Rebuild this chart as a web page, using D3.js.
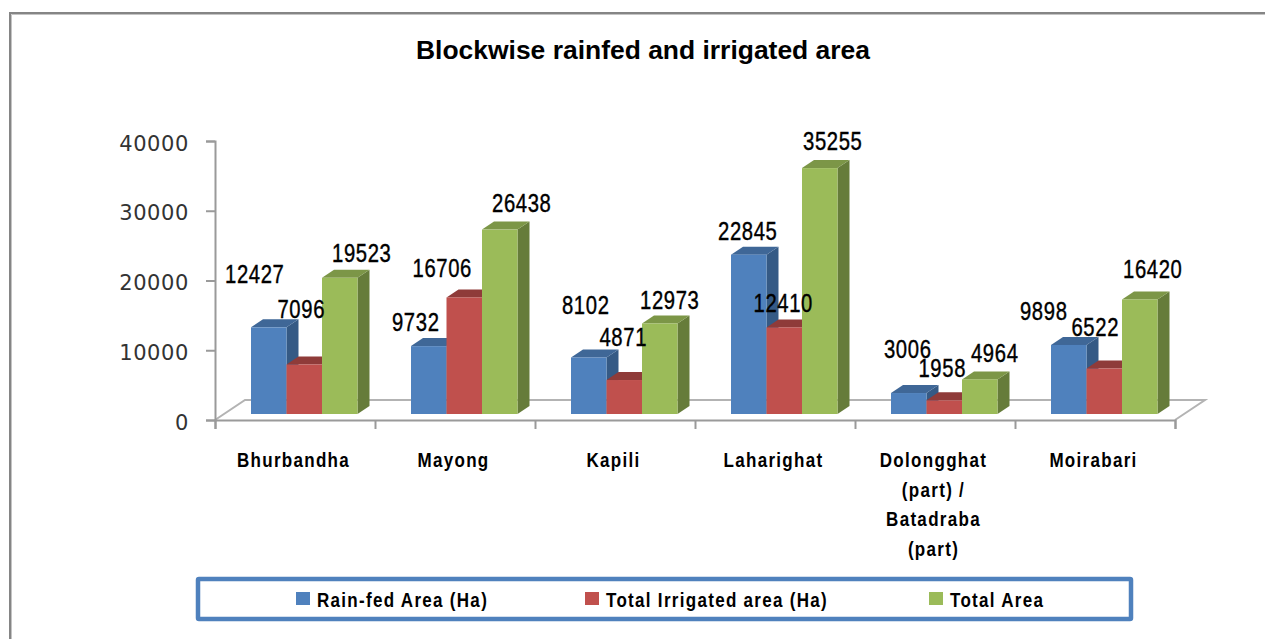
<!DOCTYPE html>
<html>
<head>
<meta charset="utf-8">
<script src="https://cdnjs.cloudflare.com/ajax/libs/d3/7.8.5/d3.min.js"></script>
<style>
  html, body { margin: 0; padding: 0; background: #fff; }
  svg { display: block; }
  .narrow { font-family: "Liberation Sans", sans-serif; fill: #000; }
</style>
</head>
<body>
<div id="chart"></div>
<script>
const blocks = [
  ["Bhurbandha"],
  ["Mayong"],
  ["Kapili"],
  ["Laharighat"],
  ["Dolongghat", "(part) /", "Batadraba", "(part)"],
  ["Moirabari"]
];
const seriesNames = ["Rain-fed Area (Ha)", "Total Irrigated area (Ha)", "Total Area"];
const rainfed = [12427, 9732, 8102, 22845, 3006, 9898];
const irrigated = [7096, 16706, 4871, 12410, 1958, 6522];
const totalArea = [19523, 26438, 12973, 35255, 4964, 16420];
const yTicks = [0, 10000, 20000, 30000, 40000];

// colours: front, top, side
const palette = [
  ["#4f81bd", "#3f6797", "#355a85"],
  ["#c0504d", "#8f3b39", "#8f3b39"],
  ["#9bbb59", "#7c9647", "#667c3a"]
];

// the labels sit by hand in the original, these are nudges from the bar top
const labelNudgeX = [
  [-14, -13, -3, -1, -1, -25],
  [-3, -22, -1, -1, -2, -9],
  [22, 22, 10, 13, 15, 13]
];
const labelNudgeY = [
  [-44, -15, -43, -15, -35, -25],
  [-47, -20, -34, -15, -23, -33],
  [-16, -18, -15, -18, -17, -21]
];

const width = 1265, height = 639;
const plotLeft = 215, plotRight = 1175, plotTop = 141, plotBottom = 420;
const depthX = 12, depthY = 8;      // bar depth
const floorX = 29, floorY = 20;     // floor depth
const floorLift = 6;                // bars stand a bit behind the front edge
const squeeze = 0.81;               // no condensed font here, so narrow the text

// squeeze the text to a share of its natural width
function narrow(sel) {
  sel.each(function () {
    const len = this.getComputedTextLength();
    d3.select(this)
      .attr("textLength", len * squeeze)
      .attr("lengthAdjust", "spacingAndGlyphs");
  });
}

const svg = d3.select("#chart").append("svg")
  .attr("width", width)
  .attr("height", height);

// outer frame, light edge under the dark one
svg.append("path")
  .attr("d", "M11.5,639 V14.5 H1265")
  .attr("fill", "none")
  .attr("stroke", "#c4c4c4")
  .attr("stroke-width", 1);
svg.append("path")
  .attr("d", "M10,639 V13 H1265")
  .attr("fill", "none")
  .attr("stroke", "#858585")
  .attr("stroke-width", 2);

svg.append("text")
  .attr("x", 643)
  .attr("y", 59)
  .attr("text-anchor", "middle")
  .attr("font-family", "Liberation Sans")
  .attr("font-weight", "bold")
  .attr("font-size", 26)
  .attr("textLength", 454)
  .attr("lengthAdjust", "spacingAndGlyphs")
  .attr("fill", "#000")
  .text("Blockwise rainfed and irrigated area");

const x0 = d3.scaleBand()
  .domain(d3.range(blocks.length))
  .range([plotLeft, plotRight]);

const x1 = d3.scaleBand()
  .domain(d3.range(seriesNames.length))
  .range([36, 142.5]);

const y = d3.scaleLinear()
  .domain([0, 40000])
  .range([plotBottom, plotTop]);

// floor
svg.append("path")
  .attr("d", `M${plotLeft},${plotBottom} L${plotLeft + floorX + 1},${plotBottom - floorY} H${plotRight + floorX + 1} L${plotRight},${plotBottom}`)
  .attr("fill", "none")
  .attr("stroke", "#b3b3b3")
  .attr("stroke-width", 2);

// y axis
const yAxis = d3.axisLeft(y).tickValues(yTicks).tickFormat(d3.format("d")).tickSize(9).tickPadding(17);
const yG = svg.append("g")
  .attr("transform", `translate(${plotLeft},0)`)
  .call(yAxis);
yG.select(".domain").attr("stroke", "#9a9a9a").attr("stroke-width", 2);
yG.selectAll(".tick line").attr("stroke", "#9a9a9a").attr("stroke-width", 2);
yG.selectAll("text")
  .attr("font-family", "DejaVu Sans")
  .attr("font-size", 21)
  .attr("letter-spacing", 0.6)
  .attr("dy", "0.43em")
  .attr("fill", "#333");

// x axis
const xAxisLine = d3.scaleLinear().domain([0, blocks.length]).range([plotLeft, plotRight]);
const xAxis = d3.axisBottom(xAxisLine).ticks(blocks.length).tickFormat("").tickSize(9);
const xG = svg.append("g")
  .attr("transform", `translate(0,${plotBottom})`)
  .call(xAxis);
xG.select(".domain").attr("stroke", "#9a9a9a").attr("stroke-width", 2);
xG.selectAll(".tick line").attr("stroke", "#9a9a9a").attr("stroke-width", 2);

// category labels, one text per wrapped line
const catLabels = svg.append("g").selectAll("g")
  .data(blocks)
  .join("g")
  .attr("transform", (d, i) => `translate(${x0(i) + x0.bandwidth() / 2 - 1.5},0)`);
catLabels.selectAll("text")
  .data(d => d)
  .join("text")
  .attr("class", "narrow")
  .attr("text-anchor", "middle")
  .attr("font-weight", "bold")
  .attr("font-size", 21)
  .attr("letter-spacing", 1.6)
  .attr("y", (d, i) => 467 + i * 29.7)
  .text(d => d)
  .call(narrow);

// bars
const seriesValues = [rainfed, irrigated, totalArea];
seriesValues.forEach((values, s) => {
  const g = svg.append("g");
  values.forEach((v, c) => {
    const left = x0(c) + x1(s);
    const w = x1.bandwidth();
    const top = y(v) - floorLift;
    const bottom = y(0) - floorLift;
    // side
    g.append("path")
      .attr("d", `M${left + w},${top} l${depthX},${-depthY} V${bottom - depthY} l${-depthX},${depthY} Z`)
      .attr("fill", palette[s][2]);
    // top
    g.append("path")
      .attr("d", `M${left},${top} l${depthX},${-depthY} h${w} l${-depthX},${depthY} Z`)
      .attr("fill", palette[s][1]);
    // front
    g.append("rect")
      .attr("x", left)
      .attr("y", top)
      .attr("width", w)
      .attr("height", bottom - top)
      .attr("fill", palette[s][0]);
  });
});

// data labels, after all the bars
seriesValues.forEach((values, s) => {
  svg.append("g").selectAll("text")
    .data(values)
    .join("text")
    .attr("class", "narrow")
    .attr("text-anchor", "middle")
    .attr("stroke", "#000")
    .attr("stroke-width", 0.4)
    .attr("font-size", 25)
    .attr("letter-spacing", 0.8)
    .attr("x", (d, c) => x0(c) + x1(s) + x1.bandwidth() / 2 + labelNudgeX[s][c])
    .attr("y", (d, c) => y(d) - floorLift + labelNudgeY[s][c])
    .text(d => d)
    .call(narrow);
});

// legend
svg.append("rect")
  .attr("x", 198)
  .attr("y", 579)
  .attr("width", 933)
  .attr("height", 40)
  .attr("rx", 1)
  .attr("fill", "#fff")
  .attr("stroke", "#4f81bd")
  .attr("stroke-width", 4.5);

const legendSwatchX = d3.scaleOrdinal().domain(seriesNames).range([296, 585, 929]);
const legend = svg.append("g").selectAll("g")
  .data(seriesNames)
  .join("g")
  .attr("transform", d => `translate(${legendSwatchX(d)},592)`);
legend.append("rect")
  .attr("width", 14)
  .attr("height", 13)
  .attr("fill", (d, i) => palette[i][0]);
legend.append("text")
  .attr("class", "narrow")
  .attr("x", 21)
  .attr("y", 15)
  .attr("font-weight", "bold")
  .attr("font-size", 21)
  .attr("letter-spacing", 1.6)
  .text(d => d)
  .call(narrow);
</script>
</body>
</html>
